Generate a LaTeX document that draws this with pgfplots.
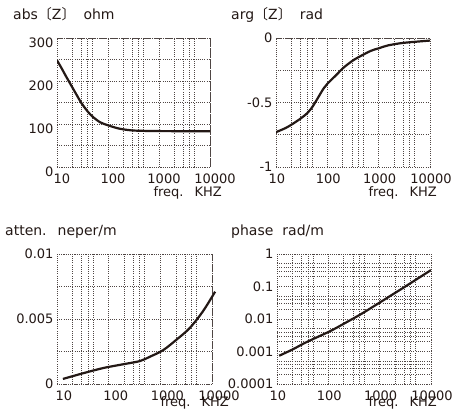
\documentclass[border=0pt]{standalone}
\usepackage{pgfplots}
\pgfplotsset{compat=1.18}
\usepackage{fontspec}
\setmainfont{DejaVu Sans}
\newfontfamily\cjk{Noto Sans CJK JP}
\definecolor{ink}{RGB}{35,24,21}

\pgfplotsset{
  myaxis/.style={
    scale only axis,
    xmin=10, xmax=10000,
    xtick={10,100,1000,10000}, xticklabels={10,100,1000,10000},
    minor xtick={20,30,40,50,200,300,400,500,2000,3000,4000,5000},
    xmajorgrids=true, xminorgrids=true, ymajorgrids=true, yminorgrids=true,
    major grid style={ink!80, line width=0.6pt, dash pattern=on 0.6pt off 1.6pt},
    minor grid style={ink!80, line width=0.6pt, dash pattern=on 0.6pt off 1.6pt},
    axis line style={ink!80, line width=0.6pt, dash pattern=on 0.6pt off 1.6pt},
    major tick length=0pt, minor tick length=0pt,
    tick style={draw=none},
    ticklabel style={font=\fontsize{13}{15}\selectfont, text=ink},
    xticklabel style={yshift=-3.5pt},
  },
}

\begin{document}
\begin{tikzpicture}
\useasboundingbox (0,0) rectangle (453pt,-419pt);

% |Z|
\begin{axis}[xmode=log, myaxis, at={(57pt,-38pt)}, anchor=north west, width=153pt, height=129pt,
  ymin=0, ymax=300, ytick={0,100,200,300}, yticklabels={0,100,200,300},
  minor ytick={50,150,250},
  yticklabel style={yshift=-5pt}, xticklabel style={xshift=5pt}]
\addplot[ink, line width=2.2pt, smooth, no marks] coordinates {
 (10,248) (12,232) (15,211) (20,185) (25,165) (30,149) (40,129) (50,117)
 (70,104) (100,97) (150,90.5) (200,87.5) (300,85) (500,84) (1000,83.5) (10000,83)
};
\end{axis}

% arg Z
\begin{axis}[xmode=log, myaxis, at={(276pt,-38pt)}, anchor=north west, width=154pt, height=129pt,
  ymin=-1, ymax=0, ytick={-1,-0.5,0}, yticklabels={-1,-0.5,0},
  minor ytick={-0.75,-0.25}, xticklabel style={xshift=1pt}]
\addplot[ink, line width=2.2pt, smooth, no marks] coordinates {
 (10,-0.73) (15,-0.70) (20,-0.672) (30,-0.625) (40,-0.585) (50,-0.54) (60,-0.49)
 (70,-0.445) (85,-0.39) (100,-0.355) (130,-0.31) (160,-0.275) (200,-0.235) (300,-0.18)
 (400,-0.15) (700,-0.10) (1000,-0.08) (1500,-0.058) (3000,-0.038) (10000,-0.02)
};
\end{axis}

% attenuation
\begin{axis}[xmode=log, myaxis, at={(57pt,-254pt)}, anchor=north west, width=155pt, height=130pt,
  ymin=0, ymax=0.01, ytick={0,0.005,0.01}, yticklabels={0,0.005,0.01},
  minor ytick={0.0025,0.0075}, scaled y ticks=false, clip=false,
  xticklabel style={xshift=7pt}]
\addplot[ink, line width=2.2pt, smooth, no marks] coordinates {
 (13,0.00039) (20,0.00060) (33,0.00084) (79,0.00123) (192,0.00152) (400,0.00176)
 (630,0.0021) (1130,0.0026) (2040,0.0034) (3700,0.0043) (6700,0.0056) (11500,0.0071)
};
\end{axis}

% phase
\begin{axis}[xmode=log, ymode=log, myaxis, at={(277pt,-254pt)}, anchor=north west, width=154pt, height=130pt,
  ymin=1e-4, ymax=1,
  ytick={1e-4,1e-3,1e-2,1e-1,1}, yticklabels={0.0001,0.001,0.01,0.1,1},
  minor ytick={2e-4,3e-4,4e-4,5e-4,2e-3,3e-3,4e-3,5e-3,2e-2,3e-2,4e-2,5e-2,0.2,0.3,0.4,0.5},
  xticklabel style={xshift=1pt}]
\addplot[ink, line width=2.2pt, smooth, no marks] coordinates {
 (11,0.00074) (20,0.00115) (34,0.0018) (50,0.0024) (114,0.0044) (257,0.0089)
 (445,0.0145) (1000,0.032) (1570,0.050) (3000,0.095) (10000,0.32)
};
\end{axis}

% titles
\begin{scope}[every node/.style={inner sep=0pt, text=ink, font=\fontsize{14}{16}\selectfont}]
\node[anchor=base west] at (13pt,-20pt) {abs{\cjk 〔}Z{\cjk 〕}\hspace{8pt}ohm};
\node[anchor=base west] at (231pt,-20pt) {arg{\cjk 〔}Z{\cjk 〕}\hspace{8pt}rad};
\node[anchor=base west] at (5pt,-236pt) {atten.\hspace{11pt}neper/m};
\node[anchor=base west] at (231pt,-236pt) {phase\hspace{9pt}rad/m};
\end{scope}
\begin{scope}[every node/.style={inner sep=0pt, text=ink, font=\fontsize{13}{15}\selectfont, anchor=base east}]
\node at (222pt,-196.5pt) {freq.\hspace{11pt}KHZ};
\node at (437pt,-196.5pt) {freq.\hspace{11pt}KHZ};
\node at (229pt,-406.5pt) {freq.\hspace{11pt}KHZ};
\node at (437pt,-406.5pt) {freq.\hspace{11pt}KHZ};
\end{scope}
\end{tikzpicture}
\end{document}
